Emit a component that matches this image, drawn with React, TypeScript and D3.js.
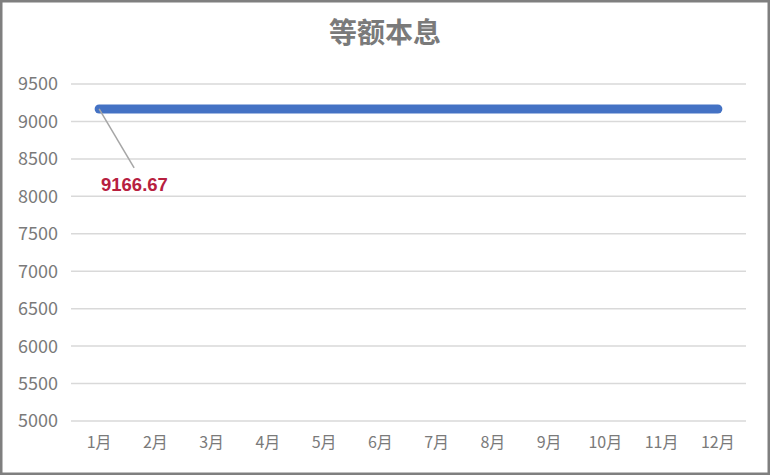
import { useEffect, useRef } from "react";
import * as d3 from "d3";

const months = ["1月", "2月", "3月", "4月", "5月", "6月", "7月", "8月", "9月", "10月", "11月", "12月"];
const payments = [9166.67, 9166.67, 9166.67, 9166.67, 9166.67, 9166.67, 9166.67, 9166.67, 9166.67, 9166.67, 9166.67, 9166.67];
const yTicks = [5000, 5500, 6000, 6500, 7000, 7500, 8000, 8500, 9000, 9500];
const title = "等额本息";

const W = 770;
const H = 475;
const FONT = "'Noto Sans CJK SC', 'Microsoft YaHei', sans-serif";

export default function App() {
  const svgRef = useRef<SVGSVGElement | null>(null);

  useEffect(() => {
    if (!svgRef.current) return;
    const svg = d3.select(svgRef.current);
    svg.selectAll("*").remove();

    const left = 71;
    const right = 746;
    const top = 84;
    const bottom = 421;

    const x = d3.scaleBand<string>().domain(months).range([left, right]);
    const y = d3.scaleLinear().domain([5000, 9500]).range([bottom, top]);

    // 外框
    svg
      .append("rect")
      .attr("x", 1.25)
      .attr("y", 1.25)
      .attr("width", W - 2.5)
      .attr("height", H - 2.5)
      .attr("fill", "#fff")
      .attr("stroke", "#7f7f7f")
      .attr("stroke-width", 2.5);

    svg
      .append("text")
      .text(title)
      .attr("x", W / 2)
      .attr("y", 43)
      .attr("text-anchor", "middle")
      .style("font-family", FONT)
      .style("font-size", "28px")
      .style("font-weight", "bold")
      .style("fill", "#7a7a7a");

    // 网格线
    svg
      .append("g")
      .selectAll("line")
      .data(yTicks)
      .join("line")
      .attr("x1", left)
      .attr("x2", right)
      .attr("y1", (d) => y(d))
      .attr("y2", (d) => y(d))
      .attr("stroke", "#d9d9d9")
      .attr("stroke-width", 1.5);

    svg
      .append("g")
      .selectAll("text")
      .data(yTicks)
      .join("text")
      .text((d) => d)
      .attr("x", 58)
      .attr("y", (d) => y(d))
      .attr("dy", "0.36em")
      .attr("text-anchor", "end")
      .style("font-family", FONT)
      .style("font-size", "18px")
      .style("fill", "#7a7a7a");

    svg
      .append("g")
      .selectAll("text")
      .data(months)
      .join("text")
      .text((d) => d)
      .attr("x", (d) => x(d)! + x.bandwidth() / 2)
      .attr("y", 448)
      .attr("text-anchor", "middle")
      .style("font-family", FONT)
      .style("font-size", "16px")
      .style("fill", "#7a7a7a");

    const line = d3
      .line<number>()
      .x((_, i) => x(months[i])! + x.bandwidth() / 2)
      .y((d) => y(d));

    svg
      .append("path")
      .datum(payments)
      .attr("d", line)
      .attr("fill", "none")
      .attr("stroke", "#4472c4")
      .attr("stroke-width", 9)
      .attr("stroke-linecap", "round")
      .attr("stroke-linejoin", "round");

    // 数据标签及引导线
    const px = x(months[0])! + x.bandwidth() / 2;
    const py = y(payments[0]);
    svg
      .append("line")
      .attr("x1", px)
      .attr("y1", py)
      .attr("x2", px + 35)
      .attr("y2", py + 59)
      .attr("stroke", "#a6a6a6")
      .attr("stroke-width", 1.5);

    svg
      .append("text")
      .text(payments[0].toFixed(2))
      .attr("x", 101)
      .attr("y", py + 82)
      .style("font-family", "'Liberation Sans', Arial, sans-serif")
      .style("font-size", "18.5px")
      .style("font-weight", "bold")
      .style("fill", "#b7203f");
  }, []);

  return (
    <svg
      ref={svgRef}
      width={W}
      height={H}
      style={{ position: "absolute", left: 0, top: 0 }}
    />
  );
}
